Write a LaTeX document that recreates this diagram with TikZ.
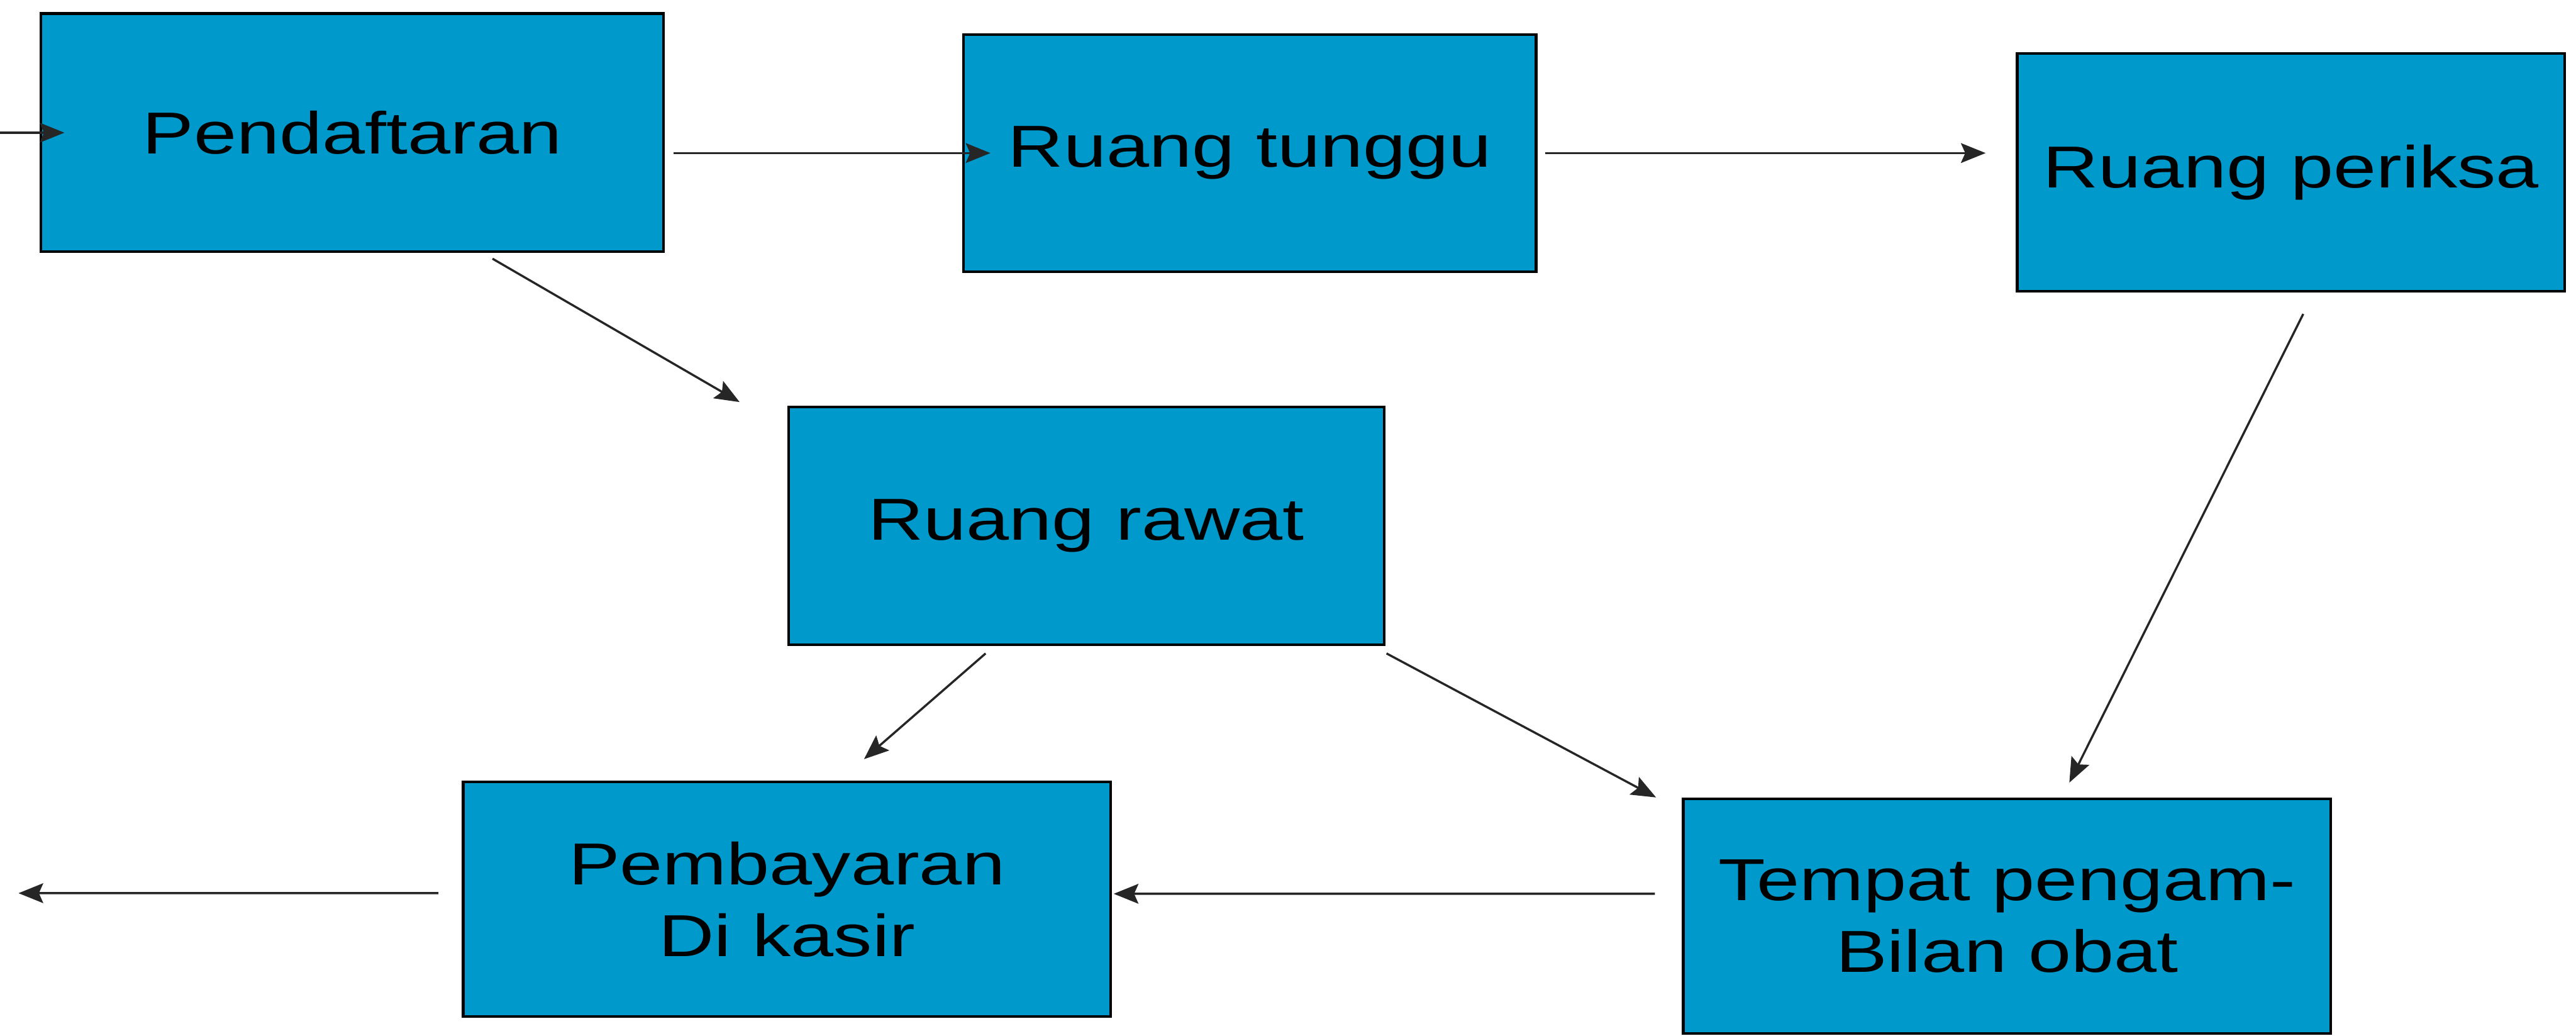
\documentclass[tikz,border=0pt]{standalone}
\usepackage{fontspec}
\setmainfont{Liberation Sans}[FakeStretch=1.3]
\usetikzlibrary{arrows.meta}
\usetikzlibrary{calc}
\definecolor{boxblue}{RGB}{0,153,204}

\begin{document}
\begin{tikzpicture}[
  box/.style={draw=black, line width=1.2pt, fill=boxblue, inner sep=0pt,
    align=center, font=\fontsize{27.3}{33}\selectfont},
  flow/.style={draw=black!85, line width=1pt, -{Stealth[length=0.4cm,width=0.32cm,inset=0.07cm]}}]
\useasboundingbox (0,0) rectangle (41.74,16.78);

\node[box, minimum width=10.09cm, minimum height=3.86cm] (daftar) at (5.71,14.63) {Pendaftaran};
\node[box, minimum width=9.28cm, minimum height=3.84cm] (tunggu) at (20.25,14.30) {Ruang tunggu};
\node[box, minimum width=8.87cm, minimum height=3.85cm] (periksa) at (37.12,13.99) {Ruang periksa};
\node[box, minimum width=9.65cm, minimum height=3.85cm] (rawat) at (17.60,8.26) {Ruang rawat};
\node[box, minimum width=10.49cm, minimum height=3.80cm] (bayar) at (12.75,2.21) {Pembayaran\\Di kasir};
\node[box, minimum width=10.49cm, minimum height=3.80cm] (obat) at (32.52,1.94) {Tempat pengam-\\Bilan obat};

\coordinate (masuk) at (0,14.63);
\coordinate (keluar) at (0.30,2.31);

\draw[flow] (masuk) -- ($(daftar.west)+(0.40,0)$);
\draw[flow] ($(daftar.east |- tunggu.east)+(0.14,0)$) -- ($(tunggu.west)+(0.46,0)$);
\draw[flow] ($(tunggu.east)+(0.13,0)$) -- ($(periksa.west |- tunggu.east)+(-0.49,0)$);
\draw[flow] ($(daftar.south)+(2.27,-0.09)$) -- ($(rawat.north west)+(-0.77,0.06)$);
\draw[flow] ($(periksa.south)+(0.20,-0.35)$) -- ($(obat.north)+(1.01,0.24)$);
\draw[flow] ($(rawat.south)+(-1.63,-0.12)$) -- ($(bayar.north)+(1.25,0.35)$);
\draw[flow] ($(rawat.south east)+(0.02,-0.12)$) -- ($(obat.north west)+(-0.42,0)$);
\draw[flow] ($(obat.west)+(-0.44,0.36)$) -- ($(bayar.east)+(0.03,0.09)$);
\draw[flow] ($(bayar.west)+(-0.38,0.10)$) -- (keluar);
\end{tikzpicture}
\end{document}
